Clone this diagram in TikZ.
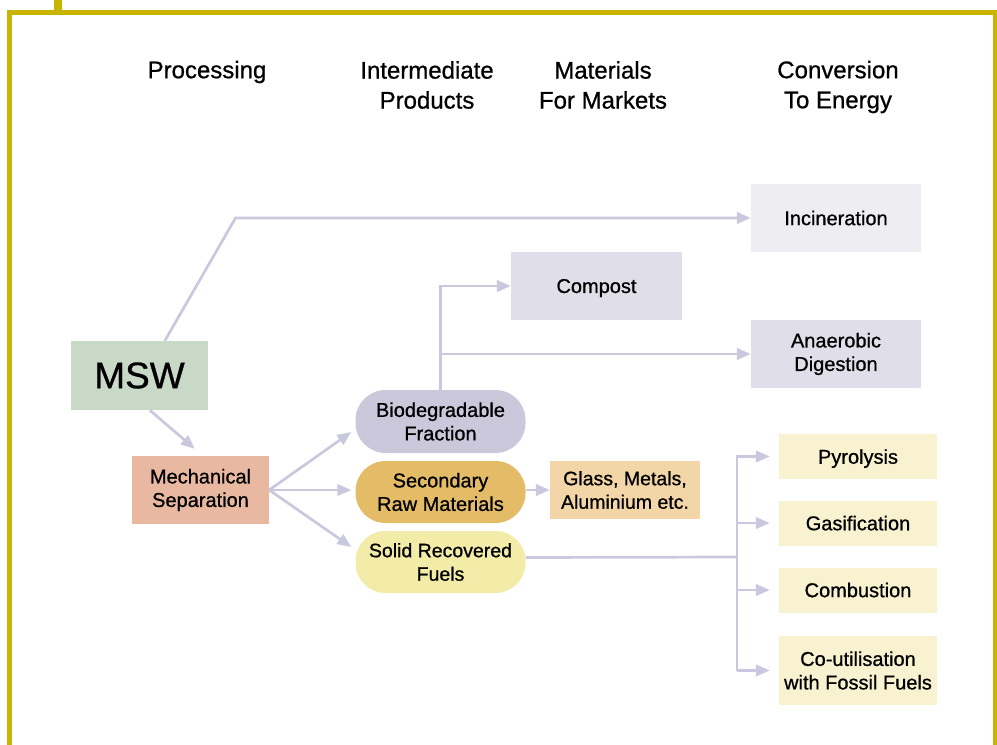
\documentclass[tikz,border=0pt]{standalone}
\usepackage{fontspec}
\setmainfont{Liberation Sans}[FakeBold=0.8]
\usetikzlibrary{arrows.meta,calc}
\definecolor{borderc}{HTML}{C9B400}
\definecolor{linec}{HTML}{CAC8DE}
\definecolor{mswc}{HTML}{C9D9C8}
\definecolor{mechc}{HTML}{E8B9A0}
\definecolor{bioc}{HTML}{CBC8DC}
\definecolor{secc}{HTML}{E4BC68}
\definecolor{srfc}{HTML}{F3EBA8}
\definecolor{glassc}{HTML}{F3D6A8}
\definecolor{compc}{HTML}{E0DFE9}
\definecolor{incc}{HTML}{EEEDF1}
\definecolor{energyc}{HTML}{F8F2D0}
\begin{document}
\begin{tikzpicture}[x=1pt,y=-1pt,
  box/.style={rectangle, inner sep=0pt, align=center, text=black,
    font=\fontsize{20}{23.5}\selectfont},
  flat/.style={text depth=0pt},
  pill/.style={box, rounded corners=30pt, minimum width=170pt, minimum height=62pt},
  hdr/.style={align=center, inner sep=0pt, font=\fontsize{24}{30}\selectfont},
  linestyle/.style={draw=linec, line width=2.7pt},
  conn/.style={linestyle, -{Triangle[length=14pt,width=11.5pt]}},
  bordline/.style={draw=borderc, line width=5.3pt}
]
\useasboundingbox (0,0) rectangle (997,745);
% frame
\draw[bordline] (9.5,745) -- (9.5,12.5) -- (995.5,12.5) -- (995.5,745);
\fill[borderc] (54,0) rectangle (62,12);

% headers
\node[hdr] (h1) at (207,72) {Processing};
\node[hdr] (h2) at (427,85) {Intermediate\\Products};
\node[hdr] (h3) at (603,85) {Materials\\For Markets};
\node[hdr] (h4) at (838,87) {Conversion\\To Energy};

% nodes
\node[box, fill=mswc, minimum width=137pt, minimum height=69pt,
  font=\fontsize{37}{40}\selectfont] (msw) at (139.5,375.5) {MSW};
\node[box, fill=mechc, minimum width=137pt, minimum height=68pt] (mech) at (200.5,490) {Mechanical\\Separation};
\node[pill, fill=bioc, minimum height=63pt] (bio) at (440.5,421.5) {Biodegradable\\Fraction};
\node[pill, fill=secc] (sec) at (440.5,492) {Secondary\\Raw Materials};
\node[pill, fill=srfc, font=\fontsize{19.5}{23.5}\selectfont] (srf) at (440.5,562) {Solid Recovered\\Fuels};
\node[box, fill=glassc, minimum width=150pt, minimum height=58pt, font=\fontsize{19.5}{23.5}\selectfont] (glass) at (625,490) {Glass, Metals,\\Aluminium etc.};
\node[box, flat, fill=compc, minimum width=171pt, minimum height=68pt] (comp) at (596.5,286) {Compost};
\node[box, fill=incc, minimum width=170pt, minimum height=68pt] (inc) at (836,218) {Incineration};
\node[box, fill=compc, minimum width=170pt, minimum height=68pt] (ana) at (836,354) {Anaerobic\\Digestion};
\node[box, flat, fill=energyc, minimum width=158pt, minimum height=45pt] (pyro) at (858,456.5) {Pyrolysis};
\node[box, flat, fill=energyc, minimum width=158pt, minimum height=45pt] (gas) at (858,523) {Gasification};
\node[box, fill=energyc, minimum width=158pt, minimum height=45pt] (comb) at (858,590) {Combustion};
\node[box, fill=energyc, minimum width=158pt, minimum height=69pt] (cout) at (858,670.5) {Co-utilisation\\with Fossil Fuels};

% connectors
\coordinate (k1) at (235.5,218);
\draw[conn] ([xshift=94pt]msw.north west) -- (k1) -- (inc.west);
\draw[conn] ([xshift=79pt]msw.south west) -- ([xshift=63pt,yshift=7pt]mech.north west);
\draw[conn] (mech.east) -- ([xshift=-4pt,yshift=-10.5pt]bio.west);
\draw[conn] (mech.east) -- ([xshift=-4pt,yshift=2pt]sec.west);
\draw[conn] (mech.east) -- ([xshift=-4pt,yshift=15pt]srf.west);
\draw[conn] (bio.north) |- (comp.west);
\draw[conn] (bio.north |- ana.west) -- (ana.west);
\draw[conn] (sec.east |- glass.west) -- (glass.west);
\coordinate (bus) at (737,557);
\draw[linestyle] ([yshift=4.5pt]srf.east) -- (bus);
\draw[conn] (bus |- cout.west) -- (bus |- pyro.west) -- ([xshift=-9pt]pyro.west);
\draw[conn] (bus |- gas.west) -- ([xshift=-9pt]gas.west);
\draw[conn] (bus |- comb.west) -- ([xshift=-9pt]comb.west);
\draw[conn] (bus |- cout.west) -- ([xshift=-9pt]cout.west);
\end{tikzpicture}
\end{document}
